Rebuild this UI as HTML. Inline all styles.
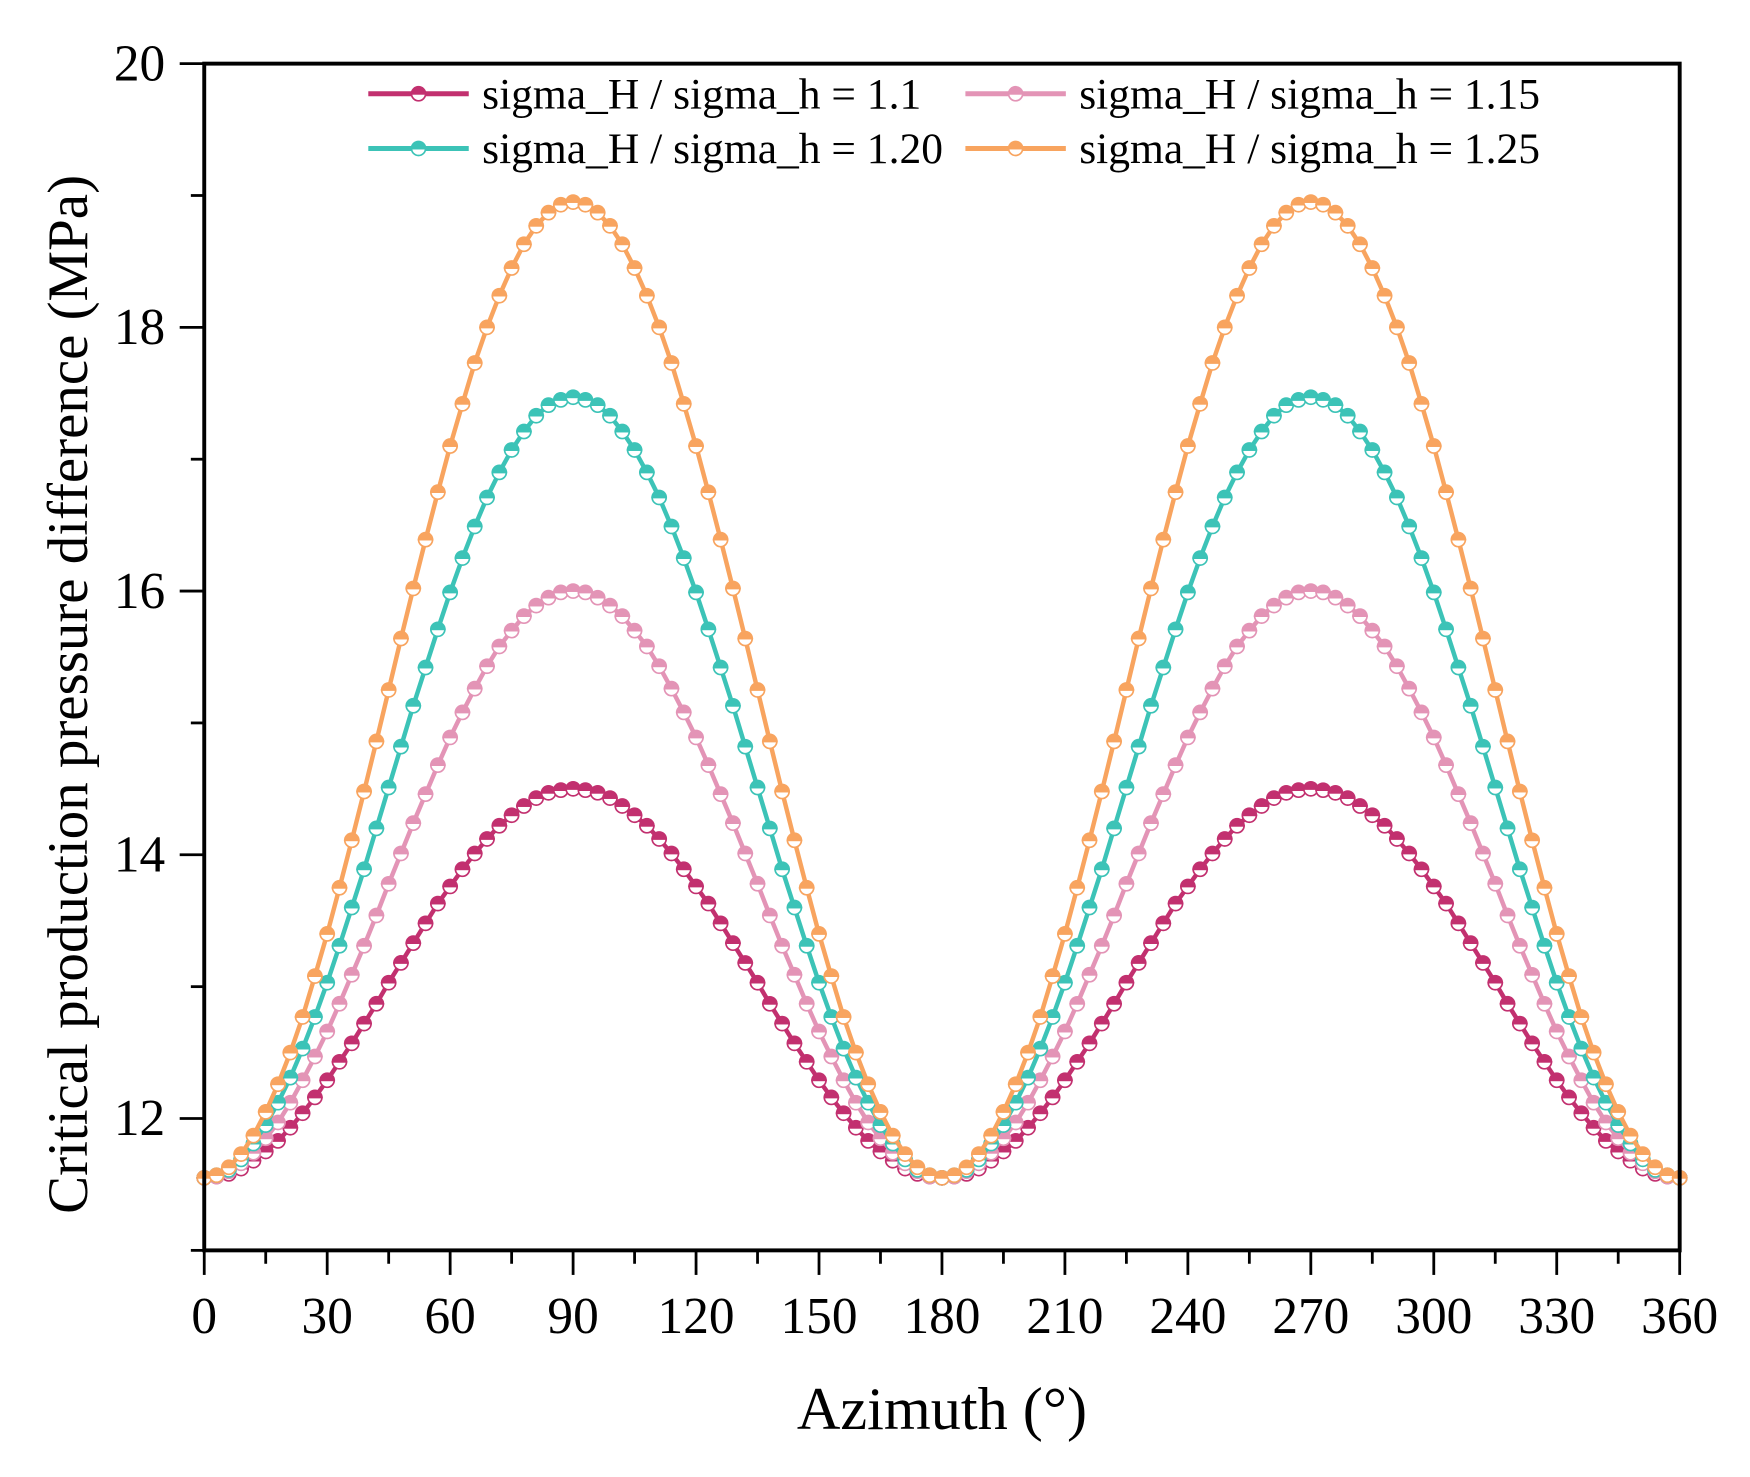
<!DOCTYPE html>
<html><head><meta charset="utf-8"><style>
html,body{margin:0;padding:0;background:#fff;}
svg{display:block;font-family:"Liberation Serif",serif;}
</style></head><body>
<svg id="chart" width="1750" height="1477" viewBox="0 0 1568 1323" preserveAspectRatio="none" xmlns="http://www.w3.org/2000/svg">
<rect width="1568" height="1323" fill="#fff"/>
<g id="series"></g>
<g id="axes"></g>
<g id="legend"></g>
<text x="844" y="1280" font-size="54" text-anchor="middle">Azimuth (°)</text>
<text transform="translate(78,622) rotate(-90)" font-size="51" text-anchor="middle">Critical production pressure difference (MPa)</text>
</svg>
<script>
const azimuths = [];
for (let a = 0; a <= 360; a += 3) azimuths.push(a);
const seriesNames = ["sigma_H / sigma_h = 1.1","sigma_H / sigma_h = 1.15","sigma_H / sigma_h = 1.20","sigma_H / sigma_h = 1.25"];
const ratio110 = [11.55,11.56,11.58,11.62,11.68,11.75,11.83,11.93,12.04,12.16,12.29,12.43,12.57,12.72,12.87,13.03,13.18,13.33,13.48,13.63,13.76,13.89,14.01,14.12,14.22,14.30,14.37,14.43,14.47,14.49,14.50,
14.49,14.47,14.43,14.37,14.30,14.22,14.12,14.01,13.89,13.76,13.63,13.48,13.33,13.18,13.03,12.87,12.72,12.57,12.43,12.29,12.16,12.04,11.93,11.83,11.75,11.68,11.62,11.58,11.56,11.55,
11.56,11.58,11.62,11.68,11.75,11.83,11.93,12.04,12.16,12.29,12.43,12.57,12.72,12.87,13.03,13.18,13.33,13.48,13.63,13.76,13.89,14.01,14.12,14.22,14.30,14.37,14.43,14.47,14.49,14.50,
14.49,14.47,14.43,14.37,14.30,14.22,14.12,14.01,13.89,13.76,13.63,13.48,13.33,13.18,13.03,12.87,12.72,12.57,12.43,12.29,12.16,12.04,11.93,11.83,11.75,11.68,11.62,11.58,11.56,11.55];
const ratio115 = [11.55,11.56,11.60,11.66,11.74,11.85,11.97,12.12,12.29,12.47,12.66,12.87,13.09,13.31,13.54,13.78,14.01,14.24,14.46,14.68,14.89,15.08,15.26,15.43,15.58,15.70,15.81,15.89,15.95,15.99,16.00,
15.99,15.95,15.89,15.81,15.70,15.58,15.43,15.26,15.08,14.89,14.68,14.46,14.24,14.01,13.78,13.54,13.31,13.09,12.87,12.66,12.47,12.29,12.12,11.97,11.85,11.74,11.66,11.60,11.56,11.55,
11.56,11.60,11.66,11.74,11.85,11.97,12.12,12.29,12.47,12.66,12.87,13.09,13.31,13.54,13.78,14.01,14.24,14.46,14.68,14.89,15.08,15.26,15.43,15.58,15.70,15.81,15.89,15.95,15.99,16.00,
15.99,15.95,15.89,15.81,15.70,15.58,15.43,15.26,15.08,14.89,14.68,14.46,14.24,14.01,13.78,13.54,13.31,13.09,12.87,12.66,12.47,12.29,12.12,11.97,11.85,11.74,11.66,11.60,11.56,11.55];
const ratio120 = [11.55,11.57,11.61,11.69,11.81,11.95,12.12,12.31,12.53,12.77,13.03,13.31,13.60,13.89,14.20,14.51,14.82,15.13,15.42,15.71,15.99,16.25,16.49,16.71,16.90,17.07,17.21,17.33,17.41,17.45,17.47,
17.45,17.41,17.33,17.21,17.07,16.90,16.71,16.49,16.25,15.99,15.71,15.42,15.13,14.82,14.51,14.20,13.89,13.60,13.31,13.03,12.77,12.53,12.31,12.12,11.95,11.81,11.69,11.61,11.57,11.55,
11.57,11.61,11.69,11.81,11.95,12.12,12.31,12.53,12.77,13.03,13.31,13.60,13.89,14.20,14.51,14.82,15.13,15.42,15.71,15.99,16.25,16.49,16.71,16.90,17.07,17.21,17.33,17.41,17.45,17.47,
17.45,17.41,17.33,17.21,17.07,16.90,16.71,16.49,16.25,15.99,15.71,15.42,15.13,14.82,14.51,14.20,13.89,13.60,13.31,13.03,12.77,12.53,12.31,12.12,11.95,11.81,11.69,11.61,11.57,11.55];
const ratio125 = [11.55,11.57,11.63,11.73,11.87,12.05,12.26,12.50,12.77,13.08,13.40,13.75,14.11,14.48,14.86,15.25,15.64,16.02,16.39,16.75,17.10,17.42,17.73,18.00,18.24,18.45,18.63,18.77,18.87,18.93,18.95,
18.93,18.87,18.77,18.63,18.45,18.24,18.00,17.73,17.42,17.10,16.75,16.39,16.02,15.64,15.25,14.86,14.48,14.11,13.75,13.40,13.08,12.77,12.50,12.26,12.05,11.87,11.73,11.63,11.57,11.55,
11.57,11.63,11.73,11.87,12.05,12.26,12.50,12.77,13.08,13.40,13.75,14.11,14.48,14.86,15.25,15.64,16.02,16.39,16.75,17.10,17.42,17.73,18.00,18.24,18.45,18.63,18.77,18.87,18.93,18.95,
18.93,18.87,18.77,18.63,18.45,18.24,18.00,17.73,17.42,17.10,16.75,16.39,16.02,15.64,15.25,14.86,14.48,14.11,13.75,13.40,13.08,12.77,12.50,12.26,12.05,11.87,11.73,11.63,11.57,11.55];
const xTicks = [0,30,60,90,120,150,180,210,240,270,300,330,360];
const yTicks = [12,14,16,18,20];

const NS = "http://www.w3.org/2000/svg";
const L = 183, R = 1505, T = 57, B = 1120;
const xMin = 0, xMax = 360, yMin = 11, yMax = 20;
function xs(v){ return L + (v - xMin) / (xMax - xMin) * (R - L); }
function ys(v){ return B - (v - yMin) / (yMax - yMin) * (B - T); }
function mk(tag, attrs, parent){ const e = document.createElementNS(NS, tag); for (const k in attrs) e.setAttribute(k, attrs[k]); parent.appendChild(e); return e; }

const colors = ["#c2306f","#e394b6","#3cc3b7","#f8a45f"];
const allSeries = [ratio110, ratio115, ratio120, ratio125];
const sg = document.getElementById("series");

function marker(g, x, y, c){
  const r = 6.3;
  mk("path", {d:`M${x-r},${y} A${r},${r} 0 0 0 ${x+r},${y} Z`, fill:"#fff", stroke:c, "stroke-width":1.5}, g);
  mk("path", {d:`M${x-r},${y} A${r},${r} 0 0 1 ${x+r},${y} Z`, fill:c, stroke:c, "stroke-width":1.5}, g);
}

allSeries.forEach((vals, si) => {
  const g = mk("g", {}, sg);
  
  
  const pts = vals.map((v,i) => xs(azimuths[i]).toFixed(2) + "," + ys(v).toFixed(2)).join(" ");
  const line = mk("polyline", {points: pts, fill:"none", stroke: colors[si], "stroke-width": 4}, g);
  
  
  vals.forEach((v,i) => marker(g, xs(azimuths[i]), ys(v), colors[si]));
});

const ax = document.getElementById("axes");
mk("rect", {x:L, y:T, width:R-L, height:B-T, fill:"none", stroke:"#000", "stroke-width":3.5}, ax);
for (let v = 0; v <= 360; v += 15) {
  const major = v % 30 === 0;
  mk("line", {x1:xs(v), x2:xs(v), y1:B, y2:B + (major ? 22 : 12), stroke:"#000", "stroke-width":2.5}, ax);
}
xTicks.forEach(v => {
  const t = mk("text", {x: xs(v), y: 1194, "font-size": 46, "text-anchor":"middle"}, ax);
  t.textContent = v;
  
  
});
for (let v = 11; v <= 20; v += 1) {
  const major = v % 2 === 0;
  mk("line", {x1:L, x2:L - (major ? 22 : 12), y1:ys(v), y2:ys(v), stroke:"#000", "stroke-width":2.5}, ax);
}
yTicks.forEach(v => {
  const t = mk("text", {x: 148, y: ys(v) + 15, "font-size": 46, "text-anchor":"end"}, ax);
  t.textContent = v;
  
  
});

const lg = document.getElementById("legend");
const legPos = [[330,84],[865,84],[330,133],[865,133]];
seriesNames.forEach((n, i) => {
  const g = mk("g", {}, lg);
  
  
  const [x0, y0] = legPos[i];
  mk("line", {x1:x0, x2:x0+90, y1:y0, y2:y0, stroke:colors[i], "stroke-width":4.5}, g);
  marker(g, x0+45, y0, colors[i]);
  const t = mk("text", {x: x0+102, y: y0+13, "font-size": 39}, g);
  t.textContent = n;
});
</script>
</body></html>
